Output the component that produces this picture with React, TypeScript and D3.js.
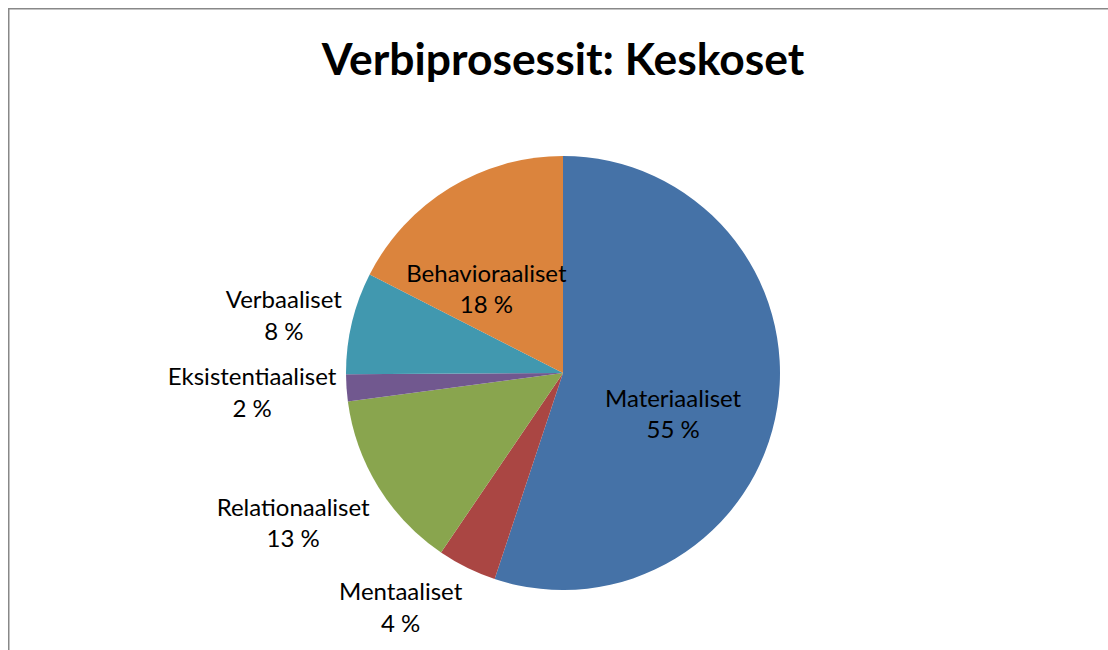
import { useRef, useEffect } from 'react';
import * as d3 from 'd3';

const categories = ['Materiaaliset', 'Mentaaliset', 'Relationaaliset', 'Eksistentiaaliset', 'Verbaaliset', 'Behavioraaliset'];
const shares = [55.1, 4.4, 13.4, 2.0, 7.6, 17.5];
const colors = ['#4572A7', '#AA4643', '#89A54E', '#71588F', '#4198AF', '#DB843D'];
const insideLabels = ['Materiaaliset', 'Behavioraaliset'];
const title = 'Verbiprosessit: Keskoset';

export default function App() {
  const svgRef = useRef<SVGSVGElement | null>(null);

  useEffect(() => {
    if (!svgRef.current) return;
    const svg = d3.select(svgRef.current);
    svg.selectAll('*').remove();

    const width = 1108;
    const height = 650;
    const cx = 563;
    const cy = 373;
    const radius = 217;
    const font = 'Lato, "Open Sans", sans-serif';

    // chart frame (only top/left edges visible in the crop)
    svg.append('path')
      .attr('d', `M8.75,${height} V8.75 H${width}`)
      .attr('fill', 'none')
      .attr('stroke', '#888')
      .attr('stroke-width', 1.5);

    svg.append('text')
      .attr('x', cx)
      .attr('y', 75)
      .attr('text-anchor', 'middle')
      .attr('font-family', font)
      .attr('font-weight', 'bold')
      .attr('font-size', 44.4)
      .text(title);

    const data = categories.map((c, i) => ({ name: c, value: shares[i], color: colors[i] }));
    const total = d3.sum(shares);

    const pie = d3.pie<typeof data[0]>().sort(null).value(d => d.value);
    const arc = d3.arc<d3.PieArcDatum<typeof data[0]>>().innerRadius(0).outerRadius(radius);
    const arcs = pie(data);

    const g = svg.append('g').attr('transform', `translate(${cx},${cy})`);

    g.selectAll('path')
      .data(arcs)
      .enter()
      .append('path')
      .attr('d', arc)
      .attr('fill', d => d.data.color);

    const fontSize = 24;
    const lineH = 31.5;
    const boxH = lineH * 2;

    arcs.forEach(a => {
      const mid = (a.startAngle + a.endAngle) / 2;
      const pct = `${Math.round((a.data.value / total) * 100)} %`;
      const inside = insideLabels.includes(a.data.name);
      let x: number, y: number;
      if (inside) {
        const r = radius * 0.57;
        x = Math.sin(mid) * r - 12;
        y = -Math.cos(mid) * r + 22;
      } else {
        const r = radius + 10;
        x = Math.sin(mid) * r;
        const py = -Math.cos(mid) * r;
        const c = -Math.cos(mid);
        const k = c > 0 ? Math.min(1, c * 2) : c * 0.65;
        y = py + (boxH / 2) * k;
      }
      const t = g.append('text')
        .attr('font-family', font)
        .attr('font-size', fontSize)
        .attr('fill', '#000')
        .attr('text-anchor', 'middle');
      t.append('tspan').attr('x', x).attr('y', y - lineH / 2 + 8).text(a.data.name);
      t.append('tspan').attr('x', x).attr('y', y + lineH / 2 + 8).text(pct);
      if (!inside) {
        // right-align the label box to the anchor point, lines centred in it
        const w = (t.node() as SVGTextElement).getBBox().width;
        t.selectAll('tspan').attr('x', x - w / 2);
      }
    });
  }, []);

  return (
    <svg
      ref={svgRef}
      width={1108}
      height={650}
      style={{ position: 'absolute', left: 0, top: 0, display: 'block', background: '#fff' }}
    />
  );
}
